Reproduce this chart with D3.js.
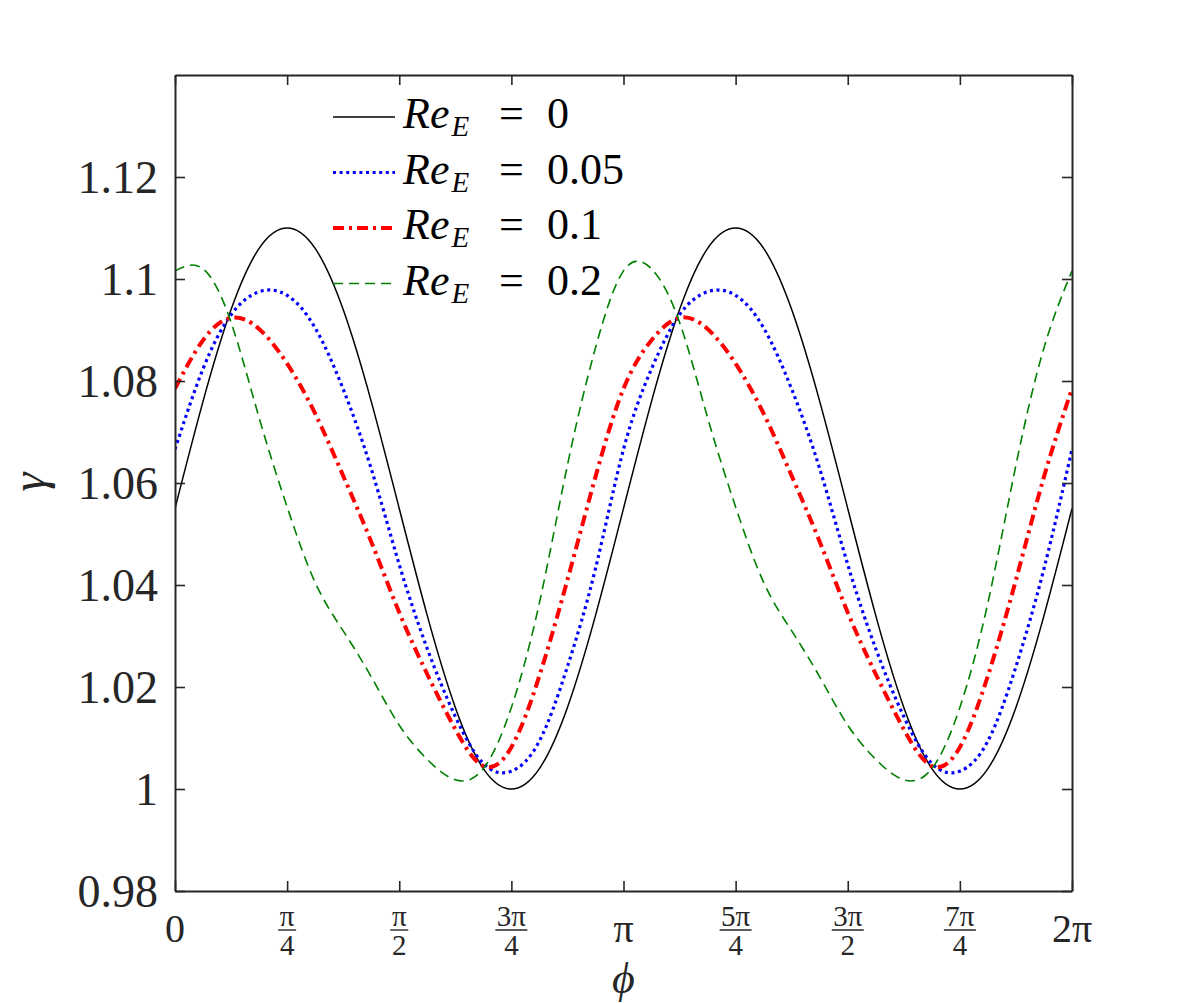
<!DOCTYPE html>
<html><head><meta charset="utf-8">
<script src="https://cdn.jsdelivr.net/npm/d3@7"></script>
<style>body{margin:0;background:#fff}</style>
</head><body>
<svg id="chart" width="1186" height="1003"></svg>
<script>
// phi positions in units of pi/16 (0 .. 2*pi)
const phiSixteenths = [0,1,2,3,4,5,6,7,8,9,10,11,12,13,14,15,16,17,18,19,20,21,22,23,24,25,26,27,28,29,30,31,32];

const gammaRe0 = [1.055,1.076,1.094,1.106,1.110,1.106,1.094,1.076,1.055,1.034,1.016,1.004,1.000,1.004,1.016,1.034,
                  1.055,1.076,1.094,1.106,1.110,1.106,1.094,1.076,1.055,1.034,1.016,1.004,1.000,1.004,1.016,1.034,1.055];
const gammaRe005 = [1.0666,1.0824,1.0930,1.0975,1.0968,1.0904,1.0784,1.0628,1.0440,1.0275,1.0142,1.0050,1.0035,1.0094,1.0240,1.0432,
                    1.0666,1.0824,1.0930,1.0975,1.0968,1.0904,1.0784,1.0628,1.0440,1.0275,1.0142,1.0050,1.0035,1.0094,1.0240,1.0432,1.0666];
const gammaRe01 = [1.0785,1.0880,1.0924,1.0902,1.0834,1.0736,1.0614,1.0485,1.0346,1.0225,1.0117,1.0045,1.0082,1.0222,1.0410,1.0612,
                   1.0785,1.0880,1.0924,1.0902,1.0834,1.0736,1.0614,1.0485,1.0346,1.0225,1.0117,1.0045,1.0082,1.0222,1.0410,1.0612,1.0785];
const gammaRe02 = [1.1016,1.1020,1.0915,1.0728,1.0553,1.0405,1.0310,1.0220,1.0125,1.0058,1.0018,1.0040,1.0160,1.0365,1.0635,1.0865,
                   1.1016,1.1020,1.0915,1.0728,1.0553,1.0405,1.0310,1.0220,1.0125,1.0058,1.0018,1.0040,1.0160,1.0365,1.0635,1.0865,1.1016];

const seriesLabels = ["0", "0.05", "0.1", "0.2"];

const yTickValues = [0.98, 1.0, 1.02, 1.04, 1.06, 1.08, 1.10, 1.12];
const yTickLabels = ["0.98", "1", "1.02", "1.04", "1.06", "1.08", "1.1", "1.12"];
const xTickQuarters = [0,1,2,3,4,5,6,7,8]; // in units of pi/4
const xTickNum = ["0", "π", "π", "3π", "π", "5π", "3π", "7π", "2π"];
const xTickDen = [null, "4", "2", "4", null, "4", "2", "4", null];

const svg = d3.select("#chart");
const L = 175, R = 1072, T = 75, B = 891;
const x = d3.scaleLinear().domain([0, 2*Math.PI]).range([L, R]);
const y = d3.scaleLinear().domain([0.98, 1.14]).range([B, T]);
const axisColor = "#262626";
const serif = "'Liberation Serif', 'DejaVu Serif', serif";

svg.append("defs").append("clipPath").attr("id","clip")
  .append("rect").attr("x",L).attr("y",T).attr("width",R-L).attr("height",B-T);

svg.append("rect").attr("x",L).attr("y",T).attr("width",R-L).attr("height",B-T).attr("fill","#fff");

const styles = [
  {data: gammaRe0,   color:"#000000", width:1.5, dash:null},
  {data: gammaRe005, color:"#0000ff", width:3.2, dash:"3,3.6"},
  {data: gammaRe01,  color:"#ff0000", width:4,   dash:"11,5,3,5"},
  {data: gammaRe02,  color:"#008000", width:1.6, dash:"10,6"}
];

const line = d3.line().x(d => x(d[0])).y(d => y(d[1])).curve(d3.curveNatural);
const g = svg.append("g").attr("clip-path","url(#clip)");
styles.forEach(s => {
  const pts = phiSixteenths.map((p,i) => [p*Math.PI/16, s.data[i]]);
  g.append("path").datum(pts).attr("d", line)
    .attr("fill","none").attr("stroke", s.color).attr("stroke-width", s.width)
    .attr("stroke-dasharray", s.dash).attr("stroke-linejoin","round");
});

// axes
const xVals = xTickQuarters.map(q => q*Math.PI/4);
function styleAxis(sel){
  sel.selectAll("path.domain").attr("stroke", axisColor).attr("stroke-width", 2);
  sel.selectAll(".tick line").attr("stroke", axisColor).attr("stroke-width", 1.6);
}
svg.append("g").attr("transform",`translate(0,${B})`)
  .call(d3.axisBottom(x).tickValues(xVals).tickSizeInner(-10).tickSizeOuter(0).tickFormat(""))
  .call(styleAxis);
svg.append("g").attr("transform",`translate(0,${T})`)
  .call(d3.axisTop(x).tickValues(xVals).tickSizeInner(-10).tickSizeOuter(0).tickFormat(""))
  .call(styleAxis);
const yAxisL = svg.append("g").attr("transform",`translate(${L},0)`)
  .call(d3.axisLeft(y).tickValues(yTickValues).tickSizeInner(-10).tickSizeOuter(0).tickPadding(17)
        .tickFormat((d,i) => yTickLabels[i]))
  .call(styleAxis);
yAxisL.selectAll(".tick text").attr("font-family", serif).attr("font-size", 46)
  .attr("fill", axisColor).attr("dy","0.34em");
svg.append("g").attr("transform",`translate(${R},0)`)
  .call(d3.axisRight(y).tickValues(yTickValues).tickSizeInner(-10).tickSizeOuter(0).tickFormat(""))
  .call(styleAxis);

// x tick labels (fractions)
const xl = svg.append("g").attr("font-family", serif).attr("fill", axisColor);
xVals.forEach((v,i) => {
  const cx = x(v);
  if (xTickDen[i] === null) {
    xl.append("text").attr("x", cx).attr("y", 942).attr("text-anchor","middle")
      .attr("font-size", 40).text(xTickNum[i]);
  } else {
    xl.append("text").attr("x", cx).attr("y", 926).attr("text-anchor","middle")
      .attr("font-size", 29).text(xTickNum[i]);
    const w = xTickNum[i].length > 1 ? 32 : 18;
    xl.append("line").attr("x1", cx - w/2).attr("x2", cx + w/2).attr("y1", 930).attr("y2", 930)
      .attr("stroke", axisColor).attr("stroke-width", 1.4);
    xl.append("text").attr("x", cx).attr("y", 955).attr("text-anchor","middle")
      .attr("font-size", 29).text(xTickDen[i]);
  }
});

// axis labels
svg.append("text").attr("x", (L+R)/2).attr("y", 993).attr("text-anchor","middle")
  .attr("font-family", serif).attr("font-style","italic").attr("font-size", 44)
  .attr("fill", axisColor).text("ϕ");
svg.append("text").attr("transform","translate(45,482) rotate(-90)").attr("text-anchor","middle")
  .attr("font-family", serif).attr("font-style","italic").attr("font-size", 48)
  .attr("fill", axisColor).text("γ");

// legend
const leg = svg.append("g");
styles.forEach((s,i) => {
  const base = 128 + i*55.5;
  leg.append("line").attr("x1", 333).attr("x2", 395).attr("y1", base-11).attr("y2", base-11)
    .attr("stroke", s.color).attr("stroke-width", s.width).attr("stroke-dasharray", s.dash);
  const t = leg.append("text").attr("y", base).attr("font-family", serif).attr("fill","#000");
  t.append("tspan").attr("x", 403).attr("font-size", 44).attr("font-style","italic").text("Re");
  t.append("tspan").attr("dx", 2).attr("dy", 8).attr("font-size", 29).attr("font-style","italic").text("E");
  t.append("tspan").attr("x", 499).attr("dy", -8).attr("font-size", 44).text("=");
  t.append("tspan").attr("x", 547).attr("font-size", 44).text(seriesLabels[i]);
});
</script>
</body></html>
